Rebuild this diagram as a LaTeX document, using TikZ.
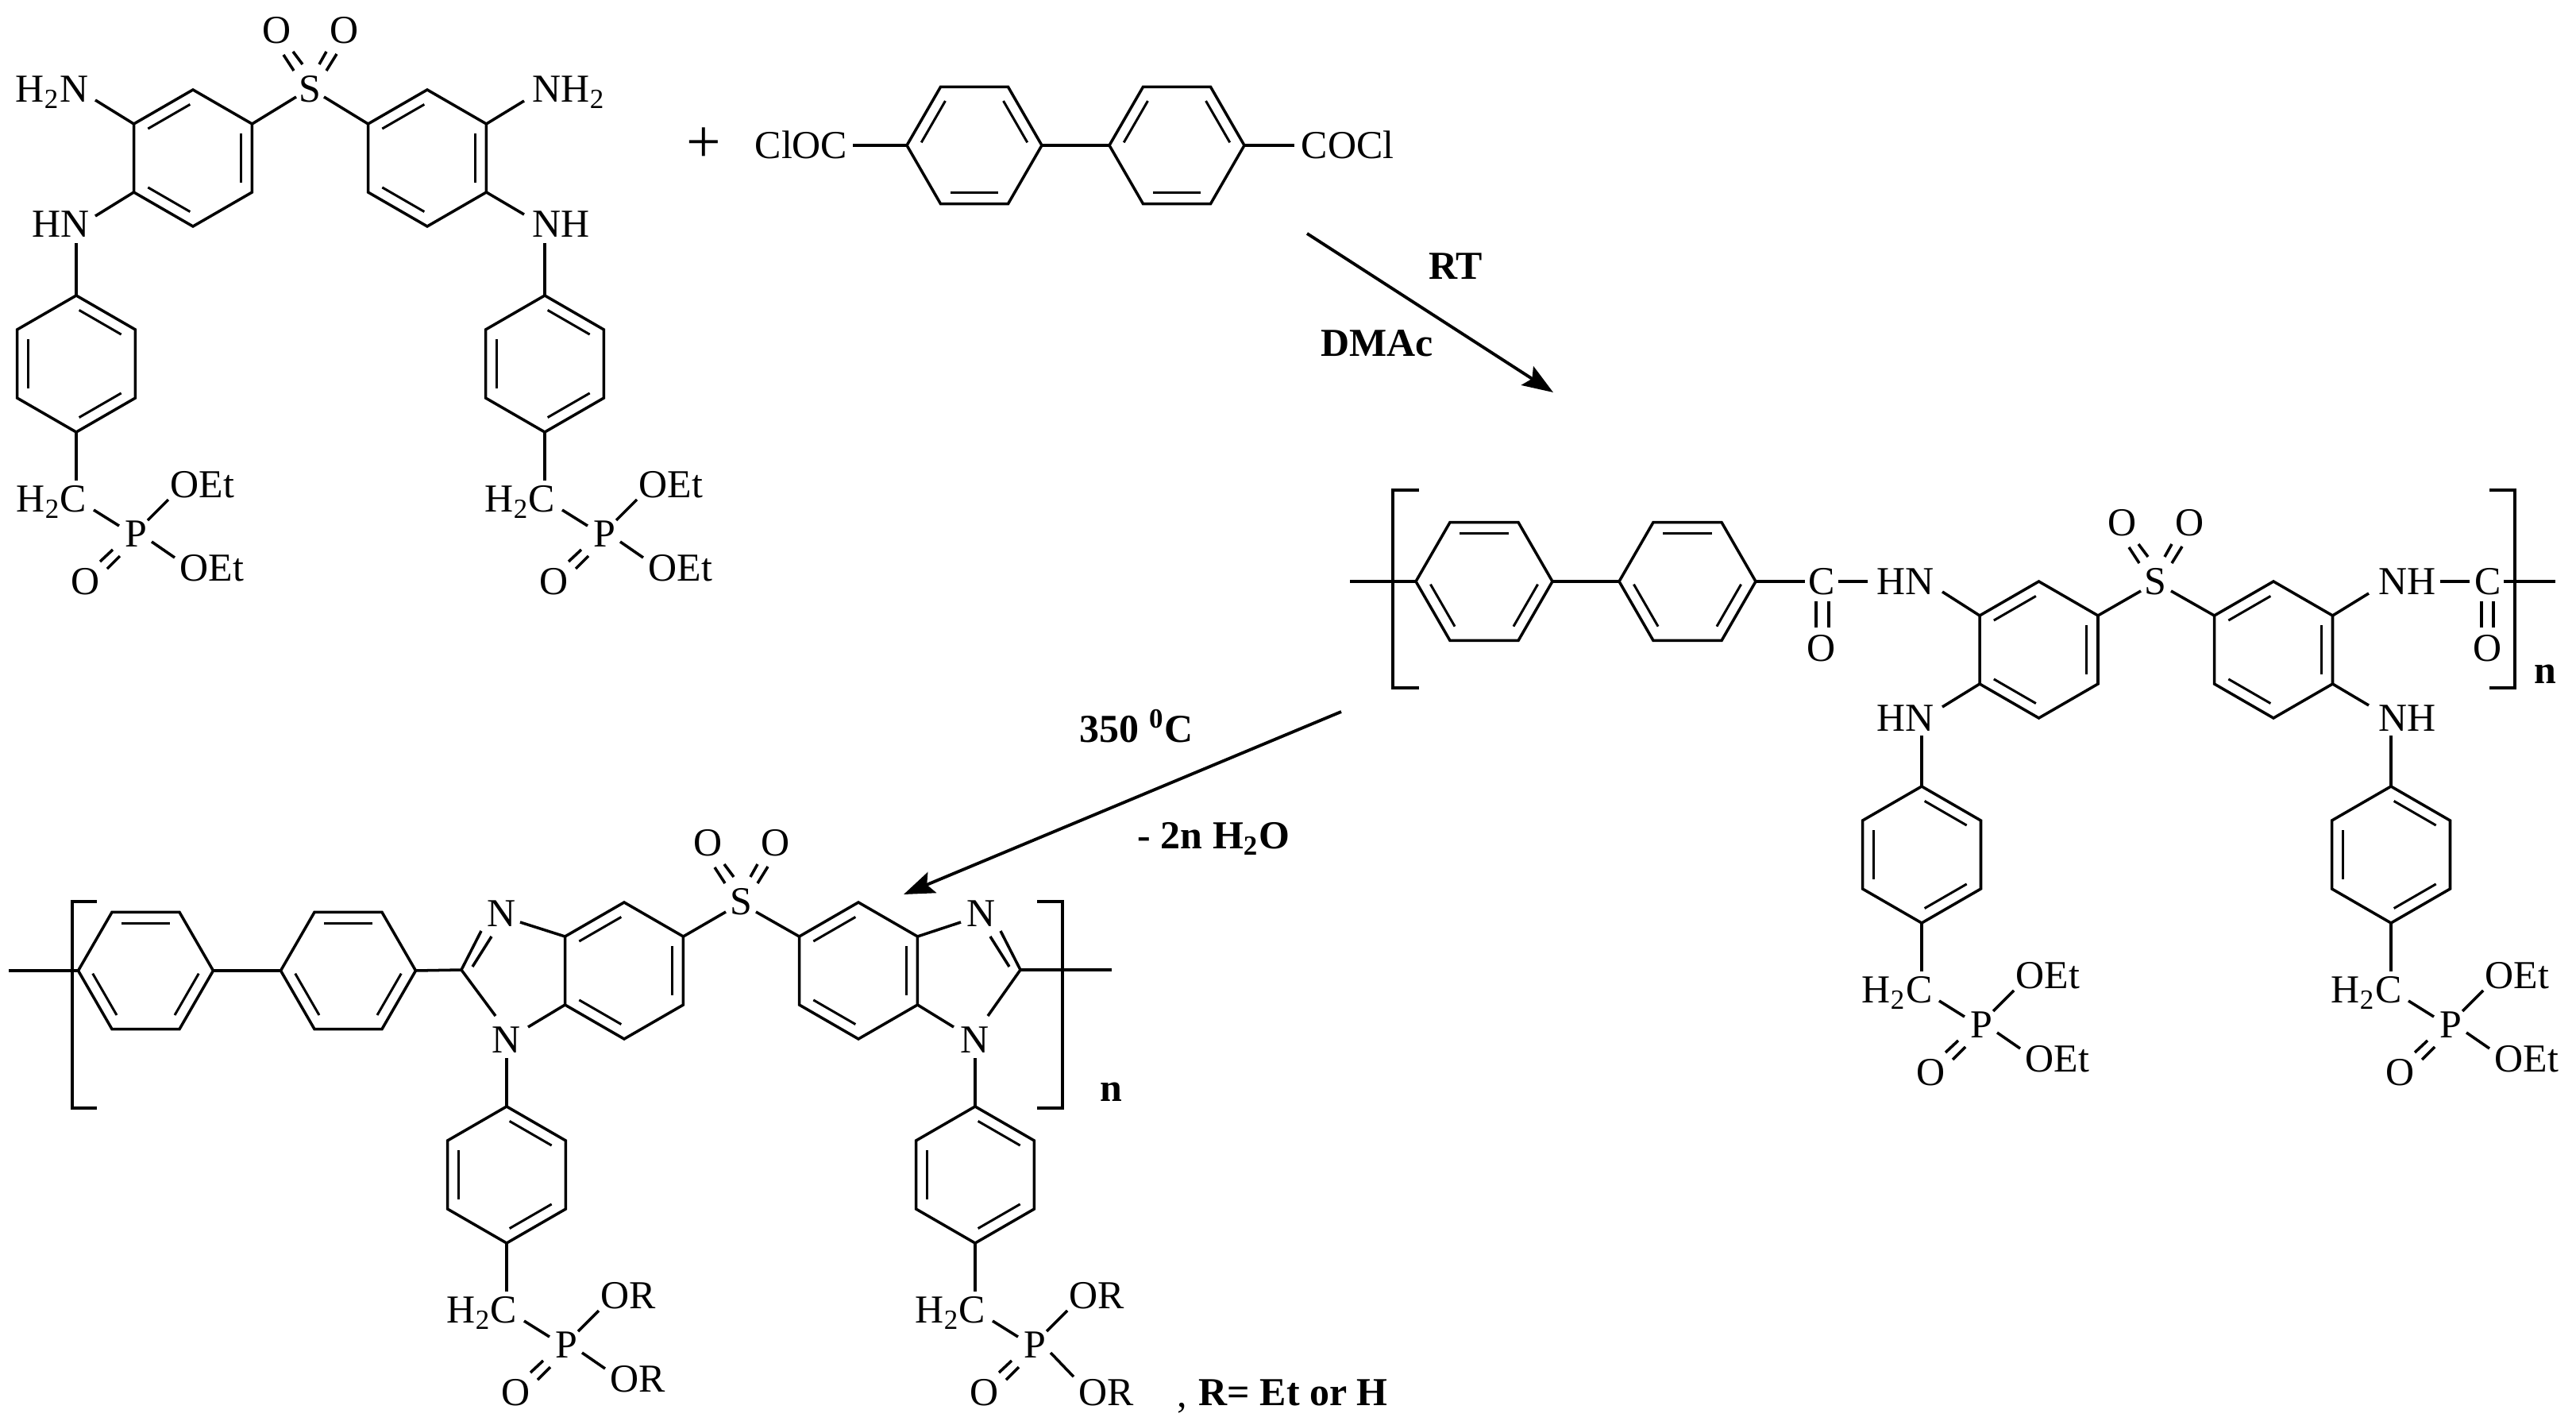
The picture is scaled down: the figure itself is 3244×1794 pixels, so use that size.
\documentclass[tikz,border=0pt]{standalone}
\usepackage{fontspec}
\setmainfont{Liberation Serif}
\usetikzlibrary{calc, arrows.meta}

\tikzset{
	bond/.style={line width=1pt},
	inner bond/.style={line width=0.85pt, shorten >=1.2pt, shorten <=1.2pt},
	bracket/.style={line width=1.4pt},
	react/.style={line width=1.1pt, -{Stealth[length=11pt,width=8pt,inset=2pt]}},
	atom/.style={inner sep=0pt, text height=.33cm, text depth=0pt, font=\fontsize{14.2}{16}\selectfont},
	cond/.style={atom, font=\fontsize{14.2}{16}\selectfont\bfseries}
}

% hexagon: name, centre, radius, angle of first corner
\newcommand{\hexring}[4]{
	\foreach \k in {1,...,6}
		\coordinate (#1\k) at ($ (#2) + ({#4+60*(\k-1)}:#3) $);
	\draw[bond, line join=miter] (#11) -- (#12) -- (#13) -- (#14) -- (#15) -- (#16) -- cycle;
	\foreach \a/\b in {1/2, 3/4, 5/6}
		\draw[inner bond] ($ (#2) ! 0.81 ! (#1\a) $) -- ($ (#2) ! 0.81 ! (#1\b) $);
}

% SO2 group above a sulphur at the given point
\newcommand{\sulfone}[2]{
	\node[atom] (#1s) at (#2) {S};
	\node[atom] (#1oa) at ($ (#1s) + (-41,-74) $) {O};
	\node[atom] (#1ob) at ($ (#1s) + (44,-74) $) {O};
	\draw[bond] ($ (#1oa) + (8,31) $) -- ($ (#1s) + (-20,-23) $);
	\draw[bond] ($ (#1oa) + (20,27) $) -- ($ (#1s) + (-9,-31) $);
	\draw[bond] ($ (#1ob) + (-23,27) $) -- ($ (#1s) + (12,-31) $);
	\draw[bond] ($ (#1ob) + (-10,30) $) -- ($ (#1s) + (21,-23) $);
}

% CH2-P(O)(OR)2 under a ring corner: name, corner, label, drop of the lower label
\newcommand{\phosgroup}[4]{
	\node[atom, anchor=east] (#1hc) at ($ (#2) + (14,84) $) {H\textsubscript{2}C};
	\node[atom] (#1p) at ($ (#2) + (75,128) $) {P};
	\node[atom, anchor=west] (#1oa) at ($ (#2) + (118,66) $) {#3};
	\node[atom, anchor=west] (#1ob) at ($ (#2) + (130,{171+#4}) $) {#3};
	\node[atom] (#1o) at ($ (#2) + (12,188) $) {O};
	\draw[bond] (#2) -- ($ (#1hc.east) + (-14,-23) $);
	\draw[bond] ($ (#1hc.east) + (8,14) $) -- ($ (#1p) + (-21,-10) $);
	\draw[bond] ($ (#1p) + (15,-17) $) -- ($ (#1oa.west) + (-2,19) $);
	\draw[bond] ($ (#1p) + (20,10) $) -- ($ (#1p) + (49,{30+#4*0.6}) $);
	\draw[bond] ($ (#1p) + (-29,20) $) -- ($ (#1o) + (18,-25) $);
	\draw[bond] ($ (#1p) + (-20,28) $) -- ($ (#1o) + (27,-16) $);
}

\begin{document}
\begin{tikzpicture}[x=0.01cm, y=-0.01cm]
	\useasboundingbox (0,0) rectangle (3244,1794);

	% --- diamine
	\begin{scope}
		\hexring{ma}{243,199}{86}{-30}
		\hexring{mb}{538,199}{86}{-30}
		\hexring{mc}{96,458}{86}{-90}
		\hexring{md}{686,458}{86}{-90}
		\sulfone{m}{390,112}

		\node[atom, anchor=east] (mnl) at (112,112) {H\textsubscript{2}N};
		\node[atom, anchor=west] (mnr) at (670,112) {NH\textsubscript{2}};
		\node[atom, anchor=east] (mhl) at (113,282) {HN};
		\node[atom, anchor=west] (mhr) at (670,282) {NH};

		\draw[bond] (ma1) -- ($ (ms) + (-17,10) $);
		\draw[bond] (mb5) -- ($ (ms) + (18,10) $);
		\draw[bond] (ma5) -- ($ (mnl.east) + (8,14) $);
		\draw[bond] (mb1) -- ($ (mnr.west) + (-10,15) $);
		\draw[bond] (ma4) -- ($ (mhl.east) + (7,-10) $);
		\draw[bond] (mb2) -- ($ (mhr.west) + (-10,-12) $);
		\draw[bond] (mc1) -- ($ (mhl.east) + (-17,24) $);
		\draw[bond] (md1) -- ($ (mhr.west) + (16,24) $);

		\phosgroup{mpa}{mc4}{OEt}{0}
		\phosgroup{mpb}{md4}{OEt}{0}
	\end{scope}

	\node[atom, font=\fontsize{22}{22}\selectfont] (plus) at (886,188) {+};

	% --- acid chloride
	\begin{scope}
		\hexring{ca}{1227,183}{85}{-60}
		\hexring{cb}{1482,183}{85}{-60}
		\node[atom, anchor=east] (cl) at (1068,183) {ClOC};
		\node[atom, anchor=west] (cr) at (1638,183) {COCl};
		\draw[bond] ($ (cl.east) + (6,0) $) -- (ca5);
		\draw[bond] (ca2) -- (cb5);
		\draw[bond] (cb2) -- ($ (cr.west) + (-8,0) $);
	\end{scope}

	% --- reaction arrows
	\coordinate (ara) at (1646,294);
	\coordinate (arb) at (1956,494);
	\coordinate (arc) at (1689,896);
	\coordinate (ard) at (1138,1126);
	\draw[react] (ara) -- (arb);
	\draw[react] (arc) -- (ard);
	\node[cond] (rt) at (1833,335) {RT};
	\node[cond] (dmac) at (1734,432) {DMAc};
	\node[cond, anchor=west] (temp) at (1359,918) {350 \textsuperscript{0}C};
	\node[cond, anchor=west] (water) at (1432,1052) {- 2n H\textsubscript{2}O};

	% --- polyamide
	\begin{scope}
		\hexring{pa}{1869,732}{86}{0}
		\hexring{pb}{2125,732}{86}{0}
		\hexring{pc}{2567.5,818}{86}{-30}
		\hexring{pd}{2863,818}{86}{-30}
		\hexring{pe}{2420,1076}{86}{-90}
		\hexring{pf}{3011,1076}{86}{-90}
		\sulfone{p}{2714,732}

		\coordinate (pleft) at (1700,732);
		\coordinate (pright) at (3218,732);
		\node[atom] (pca) at (2294,732) {C};
		\node[atom] (pcb) at (3133,732) {C};
		\node[atom] (poa) at (2294,816) {O};
		\node[atom] (pob) at (3133,816) {O};
		\node[atom, anchor=east] (pna) at (2436,732) {HN};
		\node[atom, anchor=west] (pnb) at (2995,732) {NH};
		\node[atom, anchor=east] (pnc) at (2436,904) {HN};
		\node[atom, anchor=west] (pnd) at (2995,904) {NH};

		\draw[bond] (pleft) -- (pa4);
		\draw[bond] (pa1) -- (pb4);
		\draw[bond] (pb1) -- ($ (pca) + (-21,0) $);
		\draw[bond] ($ (pca) + (21,0) $) -- ($ (pna.west) + (-10,0) $);
		\draw[bond] ($ (pnb.east) + (4,0) $) -- ($ (pcb) + (-23,0) $);
		\draw[bond] ($ (pcb) + (20,0) $) -- (pright);
		\draw[bond] ($ (pca) + (-7,25) $) -- ($ (poa) + (-7,-26) $);
		\draw[bond] ($ (pca) + (9,25) $) -- ($ (poa) + (9,-26) $);
		\draw[bond] ($ (pcb) + (-8,25) $) -- ($ (pob) + (-8,-26) $);
		\draw[bond] ($ (pcb) + (7,25) $) -- ($ (pob) + (7,-26) $);
		\draw[bond] (pc5) -- ($ (pna.east) + (10,13) $);
		\draw[bond] (pc4) -- ($ (pnc.east) + (10,-14) $);
		\draw[bond] (pd1) -- ($ (pnb.west) + (-12,15) $);
		\draw[bond] (pd2) -- ($ (pnd.west) + (-12,-16) $);
		\draw[bond] (pc1) -- ($ (ps) + (-18,12) $);
		\draw[bond] (pd5) -- ($ (ps) + (20,12) $);
		\draw[bond] (pe1) -- ($ (pnc.east) + (-16,22) $);
		\draw[bond] (pf1) -- ($ (pnd.west) + (16,22) $);

		\draw[bracket] (1787,617) -- (1754,617) -- (1754,866) -- (1787,866);
		\draw[bracket] (3135,617) -- (3167,617) -- (3167,866) -- (3135,866);
		\node[cond] (pn) at (3205,844) {n};

		\phosgroup{ppa}{pe4}{OEt}{0}
		\phosgroup{ppb}{pf4}{OEt}{0}
	\end{scope}

	% --- polybenzimidazole
	\begin{scope}
		\hexring{ba}{183.5,1222}{85}{0}
		\hexring{bb}{438.5,1222}{85}{0}
		\hexring{bc}{786,1222}{86}{-30}
		\hexring{bd}{1081,1222}{86}{-30}
		\hexring{be}{638,1479}{86}{-90}
		\hexring{bf}{1228,1479}{86}{-90}
		\sulfone{b}{933,1135}

		\coordinate (bleft) at (11,1222);
		\coordinate (bright) at (1400,1221);
		\coordinate (bcl) at (581,1221);
		\coordinate (bcr) at (1285,1221);
		\node[atom] (bna) at (632,1150) {N};
		\node[atom] (bnb) at (638,1309) {N};
		\node[atom] (bnc) at (1236,1150) {N};
		\node[atom] (bnd) at (1228,1309) {N};

		\draw[bond] (bleft) -- (ba4);
		\draw[bond] (ba1) -- (bb4);
		\draw[bond] (bb1) -- (bcl);
		\draw[bond] (bcr) -- (bright);
		\draw[bond] (bcl) -- ($ (bna) + (-26,22) $);
		\draw[bond] ($ (bcl) + (14,-4) $) -- ($ (bna) + (-13,29) $);
		\draw[bond] (bcl) -- ($ (bnb) + (-14,-30) $);
		\draw[bond] (bcr) -- ($ (bnc) + (24,22) $);
		\draw[bond] ($ (bcr) + (-14,-4) $) -- ($ (bnc) + (11,29) $);
		\draw[bond] (bcr) -- ($ (bnd) + (16,-30) $);
		\draw[bond] (bc5) -- ($ (bna) + (23,11) $);
		\draw[bond] (bc4) -- ($ (bnb) + (27,-16) $);
		\draw[bond] (bd1) -- ($ (bnc) + (-26,11) $);
		\draw[bond] (bd2) -- ($ (bnd) + (-27,-16) $);
		\draw[bond] (bc1) -- ($ (bs) + (-19,13) $);
		\draw[bond] (bd5) -- ($ (bs) + (19,13) $);
		\draw[bond] (be1) -- ($ (bnb) + (0,23) $);
		\draw[bond] (bf1) -- ($ (bnd) + (0,23) $);

		\draw[bracket] (122,1135) -- (91,1135) -- (91,1395) -- (122,1395);
		\draw[bracket] (1306,1135) -- (1338,1135) -- (1338,1395) -- (1306,1395);
		\node[cond] (bn) at (1399,1370) {n};

		\phosgroup{bpa}{be4}{OR}{0}
		\phosgroup{bpb}{bf4}{OR}{17}
	\end{scope}

	\node[atom, anchor=west] (comma) at (1482,1755) {,};
	\node[cond, anchor=west] (rdef) at (1509,1753) {R= Et or H};
\end{tikzpicture}
\end{document}
